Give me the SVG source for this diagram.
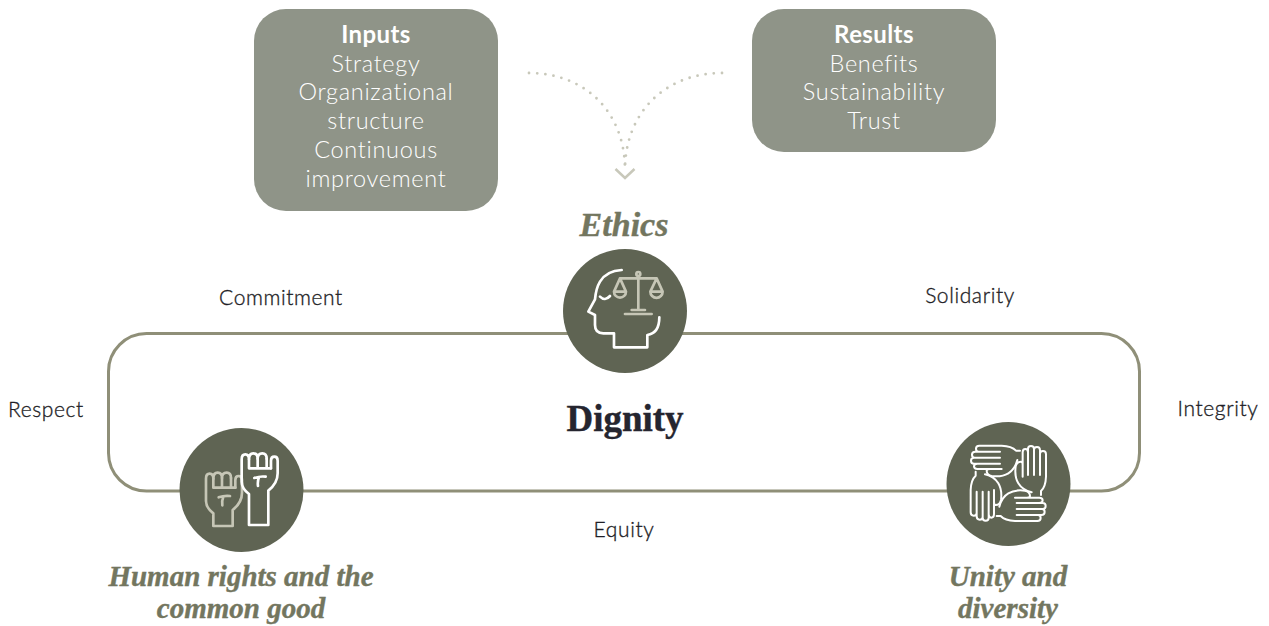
<svg xmlns="http://www.w3.org/2000/svg" width="1269" height="626" viewBox="0 0 1269 626">
<style>
.box{fill:#8f9488}
.t{font-family:Lato,"Liberation Sans",sans-serif;text-anchor:middle}
.bt{font-size:23.5px;font-weight:300;fill:#fff;letter-spacing:.7px}
.bh{font-size:24px;font-weight:700;fill:#fff;letter-spacing:.4px}
.lab{font-size:21px;font-weight:300;fill:#1f1f27;letter-spacing:.6px;stroke:#1f1f27;stroke-width:.35}
.it{font-family:"Liberation Serif","DejaVu Serif",serif;font-style:italic;font-weight:700;fill:#73765f;text-anchor:middle;stroke:#73765f;stroke-width:.4}
.disc{fill:#5f6453}
.w{fill:none;stroke:#fff;stroke-width:8;stroke-linecap:round;stroke-linejoin:round}
.c{fill:none;stroke:#c6c6b6;stroke-width:8;stroke-linecap:round;stroke-linejoin:round}
.dots{fill:none;stroke:#c8c8ba;stroke-width:2.8;stroke-linecap:round;stroke-dasharray:0 8.2}
</style>
<defs>
<g id="hand">
<path d="M250,205 Q238,185 242,155 Q245,140 258,140 Q263,140 263,150 V185 M263,150 V112 Q263,102 271,102 Q279,102 279,112 V180 M279,112 V102 Q279,93 288,93 Q297,93 297,102 V180 M297,104 Q297,96 306,96 Q315,96 315,106 V180 M315,116 Q315,108 324,108 Q333,108 333,118 V185 Q332,215 318,228 V240 M250,205 Q262,225 290,232"/>
</g>
<path id="fistFingers" d="M252,145 H318 M252,118 V145 M278,116 V145 M305,116 V145 M268,174 Q285,168 302,170 M282,172 Q277,184 279,198"/>
</defs>
<g id="connectors">
<rect x="108.500" y="333.500" width="1031" height="157.500" rx="38" fill="none" stroke="#8f8f78" stroke-width="3"/>
<path class="dots" d="M529,73 C585,73 625,112 625,170"/>
<path class="dots" d="M722,73 C666,73 625,112 625,170"/>
<path d="M615.500,169 L625,178 L634.500,169" fill="none" stroke="#c8c8ba" stroke-width="2.500"/>
</g>
<g id="inputs">
<rect class="box" x="254" y="9" width="244" height="202" rx="32"/>
<text class="t bh" x="376" y="43">Inputs</text>
<text class="t bt" x="376" y="72">Strategy</text>
<text class="t bt" x="376" y="100">Organizational</text>
<text class="t bt" x="376" y="129">structure</text>
<text class="t bt" x="376" y="158">Continuous</text>
<text class="t bt" x="376" y="187">improvement</text>
</g>
<g id="results">
<rect class="box" x="752" y="9" width="244" height="143" rx="32"/>
<text class="t bh" x="874" y="43">Results</text>
<text class="t bt" x="874" y="72">Benefits</text>
<text class="t bt" x="874" y="100">Sustainability</text>
<text class="t bt" x="874" y="129">Trust</text>
</g>
<g id="ethics">
<text class="it" x="624" y="236" font-size="34">Ethics</text>
<circle class="disc" cx="625" cy="311" r="62"/>
<g transform="translate(540,240) scale(.3333)">
<path class="w" d="M245,90 Q200,92 180,125 Q168,145 165,178 L145,215 L165,225 V255 Q165,280 190,280 H222 V322 H322 V285 Q358,280 358,232"/>
<path class="w" d="M180,170 Q195,185 210,168"/>
<g class="c">
<path d="M295,108 V210 M275,210 H315 M255,222 H335 M240,115 H350 M240,115 L222,155 M240,115 L258,155 M350,115 L331,155 M350,115 L368,155 M222,155 H258 A18,18 0 0 1 222,155 Z M331,155 H368 A18,18 0 0 1 331,155 Z"/>
<circle cx="295" cy="102" r="6"/>
</g>
</g>
</g>
<g id="dignity">
<text x="625" y="431" font-family="'Liberation Serif','DejaVu Serif',serif" font-weight="700" font-size="37" fill="#25252f" stroke="#25252f" stroke-width=".4" text-anchor="middle">Dignity</text>
</g>
<g id="human-rights">
<circle class="disc" cx="241.500" cy="490" r="62"/>
<g transform="translate(165,420) scale(.3333)">
<g class="c" transform="translate(-107,58)">
<path d="M252,260 H310 V212 Q338,190 338,160 V122 Q338,110 328,110 Q318,110 318,122 V145 M230,118 Q230,103 241,103 Q252,103 252,118 Q252,100 265,100 Q278,100 278,116 Q278,100 292,100 Q305,100 305,116 M230,118 V185 Q230,205 252,222 V260"/>
<use href="#fistFingers"/>
</g>
<g class="w">
<path d="M252,315 H310 V212 Q338,190 338,160 V122 Q338,110 328,110 Q318,110 318,122 V145 M230,118 Q230,103 241,103 Q252,103 252,118 Q252,100 265,100 Q278,100 278,116 Q278,100 292,100 Q305,100 305,116 M230,118 V185 Q230,205 252,222 V315"/>
<use href="#fistFingers"/>
</g>
</g>
<text class="it" x="241" y="586" font-size="29">Human rights and the</text>
<text class="it" x="241" y="618" font-size="29">common good</text>
</g>
<g id="unity">
<circle class="disc" cx="1008.500" cy="484" r="62"/>
<g transform="translate(935,415) scale(.3333)" class="w" style="stroke-width:6">
<use href="#hand"/>
<use href="#hand" transform="rotate(-90 220 205)"/>
<use href="#hand" transform="rotate(180 220 205)"/>
<use href="#hand" transform="rotate(90 220 205)"/>
</g>
<text class="it" x="1008" y="586" font-size="29">Unity and</text>
<text class="it" x="1008" y="618" font-size="29">diversity</text>
</g>
<g id="labels">
<text class="t lab" x="281" y="305">Commitment</text>
<text class="t lab" x="970" y="303">Solidarity</text>
<text class="t lab" x="46" y="417">Respect</text>
<text class="t lab" x="1218" y="416">Integrity</text>
<text class="t lab" x="624" y="537">Equity</text>
</g>
</svg>
